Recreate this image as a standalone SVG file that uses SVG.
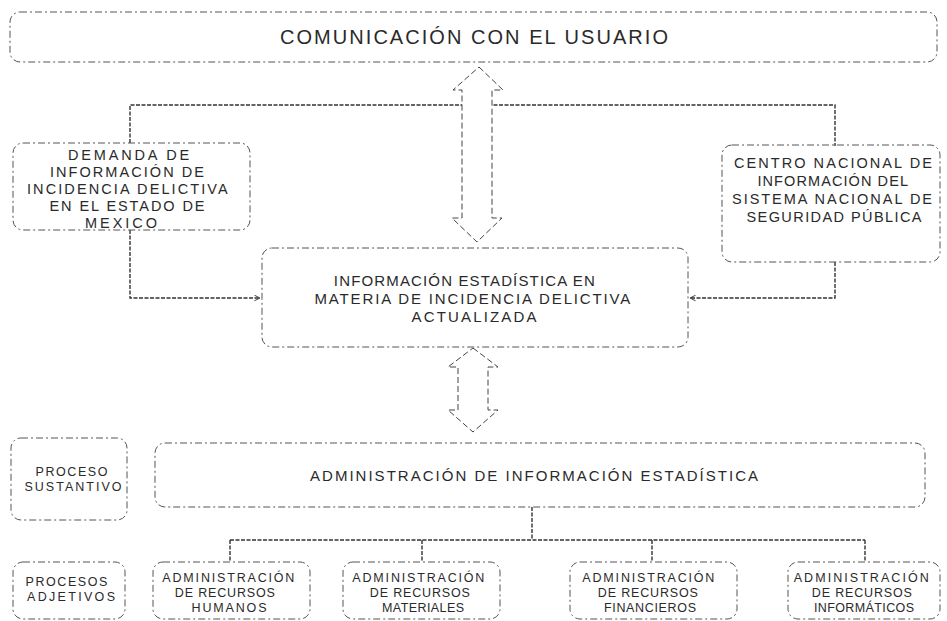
<svg xmlns="http://www.w3.org/2000/svg" width="947" height="621" viewBox="0 0 947 621">
<defs>
<style>
.box{fill:none;stroke:#555;stroke-width:1;stroke-dasharray:7 3 2 3}
.t{font-family:"Liberation Sans","Open Sans",sans-serif;fill:#2a2a2a;text-anchor:middle}
.con{fill:none;stroke:#333;stroke-width:1.4;stroke-dasharray:4 1.5}
.barrow{fill:#fff;stroke:#444;stroke-width:1;stroke-dasharray:6 3}
</style>
<marker id="ah" viewBox="0 0 10 10" refX="9" refY="5" markerWidth="7" markerHeight="7" orient="auto" markerUnits="userSpaceOnUse">
<path d="M1,1 L9,5 L1,9" fill="none" stroke="#333" stroke-width="1.3"/>
</marker>
</defs>
<rect width="947" height="621" fill="#fff"/>

<g id="connectors">
<path class="con" d="M130,143 V105 H835 V146"/>
<path class="con" d="M130,230 V298 H260" marker-end="url(#ah)"/>
<path class="con" d="M835,262 V298 H690" marker-end="url(#ah)"/>
<path class="con" d="M532,507 V540"/>
<path class="con" d="M230,540 H865"/>
<path class="con" d="M230,540 V562"/>
<path class="con" d="M422,540 V562"/>
<path class="con" d="M652,540 V562"/>
<path class="con" d="M865,540 V562"/>
<path id="arrow-top" class="barrow" d="M479,67 L503,90 H492 V218 H502 L477,242 L452,218 H462 V90 H453 Z"/>
<path id="arrow-bottom" class="barrow" d="M473,348 L498,367 H488 V410 H498 L473,432 L448,410 H458 V367 H448 Z"/>
</g>

<g id="usuario">
<rect class="box" x="10" y="12" width="927" height="50" rx="10"/>
<text class="t" x="474" y="44" font-size="20" textLength="388" lengthAdjust="spacing">COMUNICACIÓN CON EL USUARIO</text>
</g>

<g id="demanda">
<rect class="box" x="13" y="143" width="237" height="87" rx="10"/>
<text class="t" font-size="14.5">
<tspan x="132" y="160" textLength="121" lengthAdjust="spacing">DEMANDA DE</tspan>
<tspan x="130" y="177" textLength="154" lengthAdjust="spacing">INFORMACIÓN DE</tspan>
<tspan x="130" y="194" textLength="200" lengthAdjust="spacing">INCIDENCIA DELICTIVA</tspan>
<tspan x="130" y="211" textLength="155" lengthAdjust="spacing">EN EL ESTADO DE</tspan>
<tspan x="121" y="228" textLength="72" lengthAdjust="spacing">MEXICO</tspan>
</text>
</g>

<g id="centro">
<rect class="box" x="722" y="145" width="218" height="117" rx="10"/>
<text class="t" font-size="14.5">
<tspan x="836" y="168" textLength="198" lengthAdjust="spacing">CENTRO NACIONAL DE</tspan>
<tspan x="835" y="186" textLength="150" lengthAdjust="spacing">INFORMACIÓN DEL</tspan>
<tspan x="835" y="204" textLength="200" lengthAdjust="spacing">SISTEMA NACIONAL DE</tspan>
<tspan x="834" y="222" textLength="175" lengthAdjust="spacing">SEGURIDAD PÚBLICA</tspan>
</text>
</g>

<g id="informacion">
<rect class="box" x="262" y="248" width="426" height="99" rx="10"/>
<text class="t" font-size="15">
<tspan x="467" y="286" textLength="261" lengthAdjust="spacing">INFORMACIÓN ESTADÍSTICA EN</tspan>
<tspan x="475" y="304" textLength="315" lengthAdjust="spacing">MATERIA DE INCIDENCIA DELICTIVA</tspan>
<tspan x="474" y="322" textLength="125" lengthAdjust="spacing">ACTUALIZADA</tspan>
</text>
</g>

<g id="proceso-sustantivo">
<rect class="box" x="11" y="438" width="116" height="82" rx="10"/>
<text class="t" font-size="12.5">
<tspan x="74" y="476" textLength="72" lengthAdjust="spacing">PROCESO</tspan>
<tspan x="73" y="491" textLength="97" lengthAdjust="spacing">SUSTANTIVO</tspan>
</text>
</g>

<g id="administracion">
<rect class="box" x="155" y="443" width="770" height="64" rx="10"/>
<text class="t" x="534" y="481" font-size="15" textLength="448" lengthAdjust="spacing">ADMINISTRACIÓN DE INFORMACIÓN ESTADÍSTICA</text>
</g>

<g id="procesos-adjetivos">
<rect class="box" x="13" y="562" width="112" height="57" rx="10"/>
<text class="t" font-size="12.5">
<tspan x="69" y="586" textLength="82" lengthAdjust="spacing">PROCESOS</tspan>
<tspan x="71" y="601" textLength="88" lengthAdjust="spacing">ADJETIVOS</tspan>
</text>
</g>

<g id="rh">
<rect class="box" x="153" y="562" width="157" height="57" rx="10"/>
<text class="t" font-size="12.5">
<tspan x="231" y="582" textLength="132" lengthAdjust="spacing">ADMINISTRACIÓN</tspan>
<tspan x="227" y="597" textLength="100" lengthAdjust="spacing">DE RECURSOS</tspan>
<tspan x="229" y="612" textLength="75" lengthAdjust="spacing">HUMANOS</tspan>
</text>
</g>

<g id="rm">
<rect class="box" x="343" y="562" width="157" height="57" rx="10"/>
<text class="t" font-size="12.5">
<tspan x="421" y="582" textLength="132" lengthAdjust="spacing">ADMINISTRACIÓN</tspan>
<tspan x="422" y="597" textLength="100" lengthAdjust="spacing">DE RECURSOS</tspan>
<tspan x="423" y="612" textLength="82" lengthAdjust="spacing">MATERIALES</tspan>
</text>
</g>

<g id="rf">
<rect class="box" x="570" y="562" width="167" height="57" rx="10"/>
<text class="t" font-size="12.5">
<tspan x="651" y="582" textLength="132" lengthAdjust="spacing">ADMINISTRACIÓN</tspan>
<tspan x="650" y="597" textLength="100" lengthAdjust="spacing">DE RECURSOS</tspan>
<tspan x="650" y="612" textLength="92" lengthAdjust="spacing">FINANCIEROS</tspan>
</text>
</g>

<g id="ri">
<rect class="box" x="788" y="562" width="152" height="57" rx="10"/>
<text class="t" font-size="12.5">
<tspan x="864" y="582" textLength="135" lengthAdjust="spacing">ADMINISTRACIÓN</tspan>
<tspan x="864" y="597" textLength="100" lengthAdjust="spacing">DE RECURSOS</tspan>
<tspan x="864" y="612" textLength="100" lengthAdjust="spacing">INFORMÁTICOS</tspan>
</text>
</g>
</svg>
